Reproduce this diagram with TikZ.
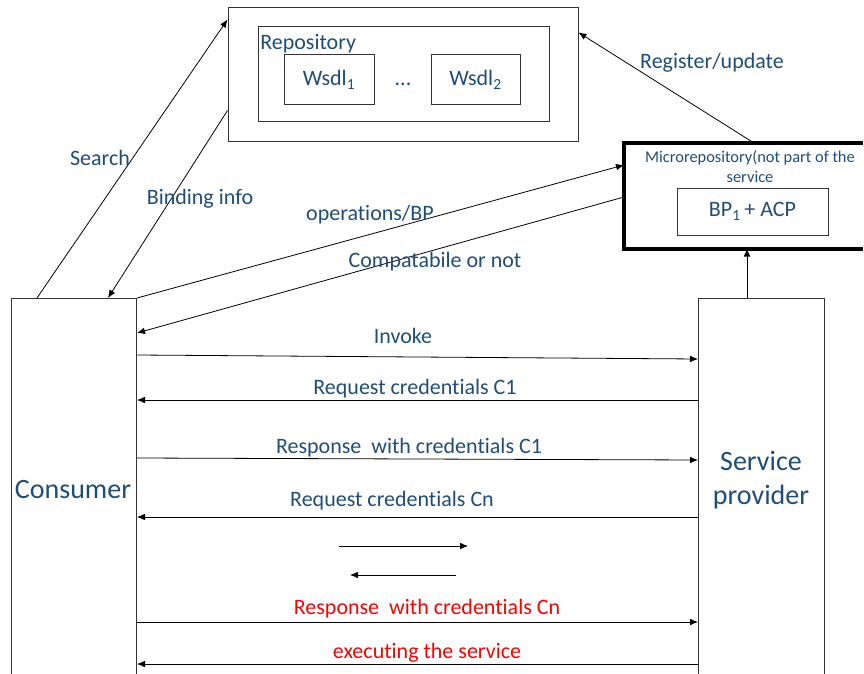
\documentclass[tikz,border=0pt]{standalone}
\usepackage{fontspec}
\setmainfont{Carlito}[Ligatures={NoCommon,NoRare,NoContextual}]
\usetikzlibrary{arrows.meta,calc,positioning}
\definecolor{txtblue}{RGB}{31,77,122}

\begin{document}
\begin{tikzpicture}[x=0.75pt, y=-0.75pt]
    \tikzset{box/.style = {rectangle, draw=black!80, line width=0.75pt, inner sep=0pt},
             lbl/.style = {text=txtblue, inner sep=0pt, font=\fontsize{16.5}{20}\selectfont},
             redlbl/.style = {lbl, text=red},
             biglbl/.style = {lbl, align=center, font=\fontsize{21}{25}\selectfont},
             msg/.style = {line width=0.6pt, -{Latex[length=6pt,width=5pt]}}}
    \useasboundingbox (0,0) rectangle (864,674);

    % Repository
    \node [box, minimum width=262.5pt, minimum height=99.75pt] (repo) at (403,74.5) {};
    \node [box, minimum width=218.25pt, minimum height=70.5pt] (inner) at (403.5,74) {};
    \node [lbl, anchor=west] (repolbl) at (260,44) {Repository};
    \node [box, lbl, minimum width=67.5pt, minimum height=37.5pt] (wsdl1) at (329,80) {Wsdl\textsubscript{1}};
    \node [box, lbl, minimum width=66.75pt, minimum height=37.5pt] (wsdl2) at (475.5,80) {Wsdl\textsubscript{2}};
    \node [lbl] (dots) at (403,84) {...};

    % Microrepository (runs off the right edge)
    \node [anchor=north west, inner sep=0pt, minimum width=178.5pt, minimum height=78.75pt] (micro) at (624,143) {};
    \draw [line width=3pt, line join=miter] (micro.north east) -- (micro.north west) -- (micro.south west) -- (micro.south east);
    \node [lbl, align=center, font=\fontsize{12.3}{15}\selectfont] (microlbl) at (750,167) {Microrepository(not part of the\\service};
    \node [box, lbl, minimum width=113.25pt, minimum height=35.25pt] (bp) at (752.5,211.5) {BP\textsubscript{1}\,+ ACP};

    % Lifelines
    \node [box, anchor=north west, minimum width=93.75pt, minimum height=301.5pt] (consumer) at (11,298) {};
    \node [box, anchor=north west, minimum width=94.5pt, minimum height=301.5pt] (provider) at (698,298) {};
    \node [biglbl] (conslbl) at (73,490) {Consumer};
    \node [biglbl] (provlbl) at (761,480) {Service\\provider};

    % Discovery
    \draw [msg] ($(consumer.north west)+(26,0)$) -- ($(repo.north west)+(0,12)$);
    \draw [msg] ($(repo.south west)+(0,-31)$) -- ($(consumer.north west)+(97,0)$);
    \draw [msg] (consumer.north east) -- ($(micro.north west)+(0,22)$);
    \draw [msg] ($(micro.north west)+(0,54)$) -- ($(consumer.north east)+(0,35)$);
    \draw [msg] ($(micro.north west)+(130,0)$) -- ($(repo.north east)+(0,25)$);
    \draw [msg] ($(provider.north west)+(49,0)$) -- ($(micro.south west)+(123,0)$);
    \node [lbl] (search) at (100,158) {Search};
    \node [lbl] (binding) at (200,199) {Binding info};
    \node [lbl] (ops) at (370,215) {operations/BP};
    \node [lbl] (compat) at (435,262) {Compatabile or not};
    \node [lbl] (register) at (712,63) {Register/update};

    % Messages
    \draw [msg] ($(consumer.north east)+(0,57)$) -- ($(provider.north west)+(0,61)$);
    \draw [msg] ($(provider.north west)+(0,102)$) -- ($(consumer.north east)+(0,102)$);
    \draw [msg] ($(consumer.north east)+(0,160)$) -- ($(provider.north west)+(0,162)$);
    \draw [msg] ($(provider.north west)+(0,219)$) -- ($(consumer.north east)+(0,219)$);
    \draw [msg] ($(consumer.north east)+(0,324)$) -- ($(provider.north west)+(0,324)$);
    \draw [msg] ($(provider.north west)+(0,366)$) -- ($(consumer.north east)+(0,366)$);
    \node [lbl] (invoke) at (403,336) {Invoke};
    \node [lbl] (req1) at (415,389) {Request credentials C1};
    \node [lbl] (resp1) at (409,448) {Response\ \ with credentials C1};
    \node [lbl] (reqn) at (392,501) {Request credentials Cn};
    \node [redlbl] (respn) at (427,609) {Response\ \ with credentials Cn};
    \node [redlbl] (exec) at (427,653) {executing the service};

    % Repeated exchange
    \coordinate (gapA) at (339,546);
    \coordinate (gapB) at (468,546);
    \coordinate (gapC) at (456,575);
    \coordinate (gapD) at (350,575);
    \draw [msg] (gapA) -- (gapB);
    \draw [msg] (gapC) -- (gapD);
\end{tikzpicture}
\end{document}
